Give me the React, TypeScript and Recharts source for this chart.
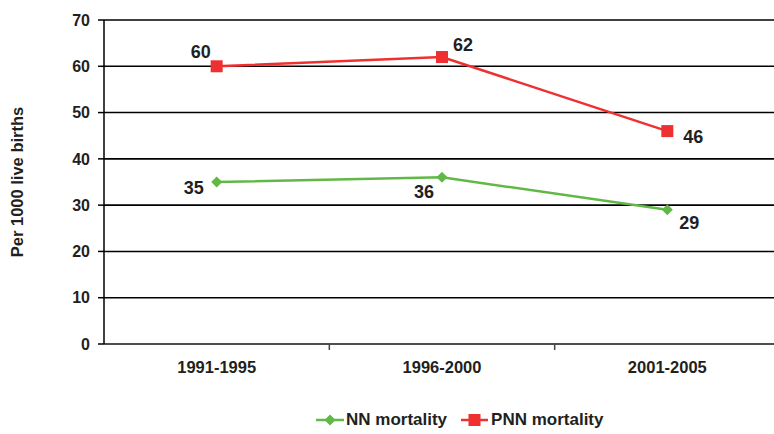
import { CartesianGrid, LabelList, Legend, Line, LineChart, XAxis, YAxis } from "recharts";

const categories = ["1991-1995", "1996-2000", "2001-2005"];
const nnMortality = [35, 36, 29];
const pnnMortality = [60, 62, 46];
const yTicks = [0, 10, 20, 30, 40, 50, 60, 70];

const chartData = categories.map((period, i) => ({
  period,
  nn: nnMortality[i],
  pnn: pnnMortality[i],
}));

const RED = "#ee3130";
const GREEN = "#62b846";
const TEXT = "#231f20";
const FONT = "Arial, 'Liberation Sans', Helvetica, sans-serif";

const CHART_W = 780;
const CHART_H = 434;
const MARGIN = { top: 20, right: 0, bottom: 0, left: 0 };
const Y_AXIS_W = 104;
const HALF_BAND = (CHART_W - Y_AXIS_W - MARGIN.left - MARGIN.right) / categories.length / 2;

// where each value label sits relative to its marker
const pnnLabelOffset = [
  { dx: -16, dy: -14 },
  { dx: 21, dy: -12 },
  { dx: 26, dy: 6 },
];
const nnLabelOffset = [
  { dx: -23, dy: 6 },
  { dx: -18, dy: 15 },
  { dx: 22, dy: 13 },
];

const makeLabel = (offsets: { dx: number; dy: number }[]) => (props: any) => {
  const { x, y, value, index } = props;
  const o = offsets[index] || { dx: 0, dy: 0 };
  return (
    <text
      x={x + o.dx}
      y={y + o.dy}
      textAnchor="middle"
      dominantBaseline="central"
      fontSize={18}
      fontWeight="bold"
      fontFamily={FONT}
      fill={TEXT}
    >
      {value}
    </text>
  );
};

const Square = (props: any) => {
  const { cx, cy } = props;
  if (typeof cx !== "number" || typeof cy !== "number") return null;
  return <rect x={cx - 6} y={cy - 6} width={12} height={12} fill={RED} />;
};

const Diamond = (props: any) => {
  const { cx, cy } = props;
  if (typeof cx !== "number" || typeof cy !== "number") return null;
  return (
    <polygon
      points={`${cx},${cy - 5.5} ${cx + 5.5},${cy} ${cx},${cy + 5.5} ${cx - 5.5},${cy}`}
      fill={GREEN}
    />
  );
};

const XTick = (props: any) => {
  const { x, y, payload, index } = props;
  return (
    <g>
      {index > 0 && (
        <line x1={x - HALF_BAND} y1={y - 8} x2={x - HALF_BAND} y2={y - 2} stroke="#444" strokeWidth={1.5} />
      )}
      <text
        x={x}
        y={y + 15}
        textAnchor="middle"
        dominantBaseline="central"
        fontSize={16.5}
        fontWeight="bold"
        fontFamily={FONT}
        fill={TEXT}
      >
        {payload.value}
      </text>
    </g>
  );
};

const LegendContent = () => (
  <div style={{ display: "flex", alignItems: "center", fontFamily: FONT, fontWeight: "bold", fontSize: 17, color: TEXT }}>
    <svg width={30} height={14}>
      <line x1={0} y1={7} x2={28} y2={7} stroke={GREEN} strokeWidth={2.5} />
      <polygon points="14,1.5 19.5,7 14,12.5 8.5,7" fill={GREEN} />
    </svg>
    <span style={{ marginRight: 14 }}>NN mortality</span>
    <svg width={30} height={14}>
      <line x1={0} y1={7} x2={27} y2={7} stroke={RED} strokeWidth={2.5} />
      <rect x={7.5} y={1} width={12} height={12} fill={RED} />
    </svg>
    <span>PNN mortality</span>
  </div>
);

export default function App() {
  return (
    <div style={{ position: "absolute", left: 0, top: 0, width: 774, height: 434, overflow: "hidden", background: "#fff" }}>
      <LineChart width={CHART_W} height={CHART_H} data={chartData} margin={MARGIN}>
        <CartesianGrid vertical={false} stroke="#000" strokeWidth={1.6} />
        <XAxis
          dataKey="period"
          scale="band"
          height={66}
          stroke="#555"
          strokeWidth={1.5}
          tickLine={false}
          tick={<XTick />}
        />
        <YAxis
          width={Y_AXIS_W}
          domain={[0, 70]}
          ticks={yTicks}
          interval={0}
          stroke="#000"
          strokeWidth={1.5}
          tickSize={6}
          tickMargin={8}
          tick={{ fontSize: 16, fontWeight: "bold", fontFamily: FONT, fill: TEXT }}
          label={{
            value: "Per 1000 live births",
            angle: -90,
            position: "insideLeft",
            offset: 17,
            style: { fontSize: 16.5, fontWeight: "bold", fontFamily: FONT, fill: TEXT, textAnchor: "middle" },
          }}
        />
        <Legend
          verticalAlign="bottom"
          content={<LegendContent />}
          wrapperStyle={{ left: 316, bottom: 0, width: "auto", height: 24 }}
        />
        <Line
          dataKey="nn"
          name="NN mortality"
          stroke={GREEN}
          strokeWidth={2.5}
          dot={<Diamond />}
          activeDot={false}
          isAnimationActive={false}
        >
          <LabelList dataKey="nn" content={makeLabel(nnLabelOffset)} />
        </Line>
        <Line
          dataKey="pnn"
          name="PNN mortality"
          stroke={RED}
          strokeWidth={2.5}
          dot={<Square />}
          activeDot={false}
          isAnimationActive={false}
        >
          <LabelList dataKey="pnn" content={makeLabel(pnnLabelOffset)} />
        </Line>
      </LineChart>
    </div>
  );
}
